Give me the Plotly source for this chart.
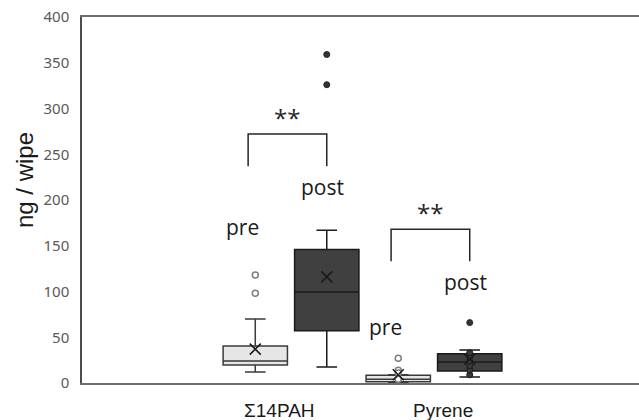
import plotly.graph_objects as go

# ---- data ----
groups = ["Σ14PAH", "Pyrene"]
group_pos = [2.0, 3.0]
phases = ["pre", "post"]

q1 = {"pre": [19.7, 1.5], "post": [57, 13]}
median = {"pre": [24, 4], "post": [99.5, 23]}
q3 = {"pre": [40.4, 8.5], "post": [146, 32]}
lower = {"pre": [12, 0.5], "post": [17.5, 6.5]}
upper = {"pre": [70, 9], "post": [167, 36]}
mean = {"pre": [37, 9], "post": [116, 26]}
outliers = {
    "pre": [[118, 98], [27, 14, 11, 4]],
    "post": [[359, 326], [66]],
}
inner_points = {"pre": [[], []], "post": [[], [9, 14, 19, 24, 29, 33]]}

sig_text = ["**", "**"]
bracket_top = [272, 168]
bracket_bottom = [237, 133]
pre_label_y = [170, 61]
post_label_y = [214, 110]

# ---- styles ----
offset = {"pre": -0.25, "post": 0.25}
fill = {"pre": "#e6e6e6", "post": "#404040"}
edge = {"pre": "#3a3a3a", "post": "#1a1a1a"}

fig = go.Figure()

for ph in phases:
    xs = [p + offset[ph] for p in group_pos]
    fig.add_trace(go.Box(
        x=xs, q1=q1[ph], median=median[ph], q3=q3[ph],
        lowerfence=lower[ph], upperfence=upper[ph],
        width=0.45, whiskerwidth=0.32,
        fillcolor=fill[ph], line=dict(color=edge[ph], width=1.5),
        boxpoints=False, showlegend=False, hoverinfo="skip",
    ))

for ph in phases:
    ix, iy = [], []
    for gi, pts in enumerate(inner_points[ph]):
        for v in pts:
            ix.append(group_pos[gi] + offset[ph]); iy.append(v)
    if ix:
        fig.add_trace(go.Scatter(x=ix, y=iy, mode="markers", showlegend=False,
                                 marker=dict(size=6, color="#3a3a3a",
                                             line=dict(color="#1a1a1a", width=1))))
    ox, oy = [], []
    for gi, pts in enumerate(outliers[ph]):
        for v in pts:
            ox.append(group_pos[gi] + offset[ph]); oy.append(v)
    if ph == "pre":
        mk = dict(size=6, color="white", line=dict(color="#7f7f7f", width=1.5))
    else:
        mk = dict(size=6, color="#333333", line=dict(color="#262626", width=1))
    fig.add_trace(go.Scatter(x=ox, y=oy, mode="markers", marker=mk, showlegend=False))
    fig.add_trace(go.Scatter(
        x=[p + offset[ph] for p in group_pos], y=mean[ph], mode="markers",
        showlegend=False,
        marker=dict(symbol="x-thin", size=11, line=dict(color="#1a1a1a", width=1.5))))

for gi, p in enumerate(group_pos):
    xl = p + offset["pre"] - 0.05
    xr = p + offset["post"]
    fig.add_shape(type="path",
                  path=f"M {xl} {bracket_bottom[gi]} L {xl} {bracket_top[gi]} L {xr} {bracket_top[gi]} L {xr} {bracket_bottom[gi]}",
                  line=dict(color="#262626", width=1.5), xref="x", yref="y")
    fig.add_annotation(x=(xl + xr) / 2, y=bracket_top[gi] + 18, text=sig_text[gi],
                       showarrow=False, font=dict(family="Open Sans", size=24, color="#262626"))
    fig.add_annotation(x=p + offset["pre"] - 0.09, y=pre_label_y[gi], text="pre",
                       showarrow=False, font=dict(family="Open Sans", size=21, color="#1a1a1a"))
    fig.add_annotation(x=p + offset["post"] - 0.03, y=post_label_y[gi], text="post",
                       showarrow=False, font=dict(family="Open Sans", size=21, color="#1a1a1a"))

label_shift = [-0.084, 0.063]
for gi, g in enumerate(groups):
    fig.add_annotation(x=group_pos[gi] + label_shift[gi], y=-0.075, xref="x", yref="paper",
                       text=g, showarrow=False, xanchor="center", yanchor="middle",
                       font=dict(family="Liberation Sans", size=19, color="#1a1a1a"))

fig.add_annotation(x=-0.102, y=0.555, xref="paper", yref="paper", text="ng / wipe",
                   textangle=-90, showarrow=False, xanchor="center", yanchor="middle",
                   font=dict(family="Liberation Sans", size=24, color="#1a1a1a"))

fig.update_layout(
    width=639, height=420, autosize=False,
    margin=dict(l=82, r=0, t=17, b=37),
    plot_bgcolor="white", paper_bgcolor="white",
    boxmode="overlay",
    xaxis=dict(range=[0.538, 4.434], showgrid=False, zeroline=False, showline=True,
               mirror=True, linecolor="#6e6e6e", linewidth=1.5, showticklabels=False,
               ticks=""),
    yaxis=dict(range=[0, 400], dtick=50, showgrid=False, zeroline=False, showline=True,
               linecolor="#4d4d4d", linewidth=1.5, ticks="", ticklabelstandoff=8,
               ticklabeloverflow="allow",
               tickfont=dict(family="Noto Sans", size=15, color="#595959")),
)

fig.write_html(
    "out.html",
    config={"displayModeBar": False},
    post_script="document.body.style.margin='0';document.body.style.overflow='hidden';",
)
